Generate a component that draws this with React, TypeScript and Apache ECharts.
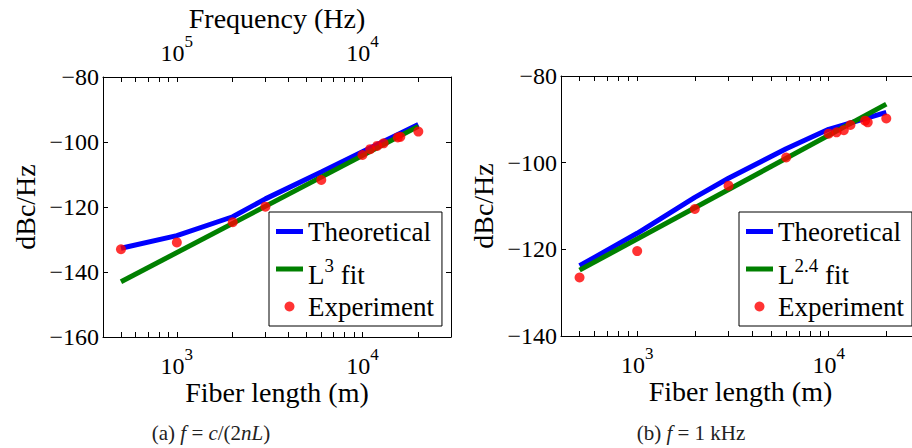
import React, { useEffect, useRef } from "react";
import * as echarts from "echarts";

// ---- data ----
const theoryLengths = [500, 1000, 2000, 3000, 6000, 10000, 20000];
const theoryA = [-132.7, -128.8, -123.0, -117.5, -109.2, -103.0, -94.6];
const theoryB = [-123.8, -116.3, -108.0, -103.6, -96.8, -92.3, -88.4];
const fitLengths = [500, 20000];
const fitA = [-143.0, -95.2];
const fitB = [-124.8, -86.5];
const expLengths = [500, 1000, 2000, 3000, 6000, 10000, 11000, 12000, 13000, 15500, 16000, 20000];
const expA = [-133.0, -130.9, -124.7, -119.9, -111.7, -104.0, -102.2, -101.2, -100.4, -98.6, -98.4, -96.8];
const expB = [-126.5, -120.4, -110.7, -105.3, -98.8, -93.3, -93.0, -92.5, -91.3, -90.3, -90.7, -89.8];
const xLimits = [400, 30000];
const xTickLengths = [500, 600, 700, 800, 900, 1000, 2000, 3000, 4000, 5000, 6000, 7000, 8000, 9000, 10000, 20000];
const xLabelLengths = [1000, 10000];
const yLimitsA = [-160, -80];
const yLimitsB = [-140, -80];
const yStep = 20;
const freqConstant = 1e8; // c/(2n) in Hz·m
const namesA = ["Theoretical", "L^3 fit", "Experiment"];
const namesB = ["Theoretical", "L^2.4 fit", "Experiment"];
const captionA = "(a) {i|f} = {i|c}/(2{i|nL})";
const captionB = "(b) {i|f} = 1 kHz";

// ---- styling ----
const FONT = "Liberation Serif, Times New Roman, serif";
const BLUE = "#0000ff";
const GREEN = "#008000";
const RED = "#ff0000";
const LINE_ICON = "path://M0,0H27V5H0Z";
const lg = (v: number) => Math.log10(v);
const toPts = (xs: number[], ys: number[]) => xs.map((x, i) => [lg(x), ys[i]]);

const powRich = {
  b: { fontFamily: FONT, fontSize: 24, lineHeight: 32, verticalAlign: "bottom", color: "#000" },
  s: { fontFamily: FONT, fontSize: 17, lineHeight: 16, verticalAlign: "top", color: "#000" },
};

function makeX(grid: number, position: string, o: any) {
  return {
    type: "value",
    gridIndex: grid,
    position,
    min: lg(xLimits[0]),
    max: lg(xLimits[1]),
    axisLine: { show: true, onZero: false, lineStyle: { color: "#000", width: 1 } },
    axisTick: {
      show: true,
      inside: true,
      length: 5,
      customValues: xTickLengths.map(lg),
      lineStyle: { color: "#000", width: 1 },
    },
    axisLabel: o.formatter
      ? {
          show: true,
          customValues: xLabelLengths.map(lg),
          margin: o.margin,
          fontFamily: FONT,
          formatter: o.formatter,
          rich: powRich,
        }
      : { show: false },
    splitLine: { show: false },
    name: o.name,
    nameLocation: "middle",
    nameGap: o.nameGap,
    nameMoveOverlap: false,
    nameTextStyle: { fontFamily: FONT, fontSize: 28, color: "#000" },
  };
}

function makeY(grid: number, position: string, limits: number[], labels: boolean, ticks = true) {
  return {
    type: "value",
    gridIndex: grid,
    position,
    min: limits[0],
    max: limits[1],
    interval: yStep,
    axisLine: { show: true, onZero: false, lineStyle: { color: "#000", width: 1 } },
    axisTick: { show: ticks, inside: true, length: 5, lineStyle: { color: "#000", width: 1 } },
    axisLabel: labels
      ? {
          show: true,
          margin: 4,
          fontFamily: FONT,
          fontSize: 24,
          color: "#000",
          formatter: (v: number) => (v < 0 ? "\u2212" : "") + Math.abs(v),
        }
      : { show: false },
    splitLine: { show: false },
    name: labels ? "dBc/Hz" : "",
    nameLocation: "middle",
    nameGap: 64,
    nameRotate: 90,
    nameMoveOverlap: false,
    nameTextStyle: { fontFamily: FONT, fontSize: 28, color: "#000" },
  };
}

const legendFormatter = (name: string) =>
  name.replace(/L\^([\d.]+) fit/, "{m|L}{sup|$1}{m| fit}");

function makeLegend(left: number, names: string[]) {
  return {
    show: true,
    orient: "vertical",
    left,
    top: 212,
    itemGap: 0,
    itemWidth: 27,
    itemHeight: 10,
    padding: [1, 8, 1, 7],
    borderColor: "#000",
    borderWidth: 1,
    backgroundColor: "#fff",
    selectedMode: false,
    align: "left",
    itemStyle: { borderWidth: 0 },
    data: [
      { name: names[0], icon: LINE_ICON, itemStyle: { color: BLUE, borderWidth: 0 } },
      { name: names[1], icon: LINE_ICON, itemStyle: { color: GREEN, borderWidth: 0 } },
      { name: names[2], icon: "circle", itemStyle: { color: RED, borderWidth: 0 } },
    ],
    formatter: legendFormatter,
    textStyle: {
      fontFamily: FONT,
      fontSize: 27,
      color: "#000",
      lineHeight: 37,
      rich: {
        m: {
          fontFamily: FONT,
          fontSize: 27,
          color: "#000",
          lineHeight: 38,
          verticalAlign: "bottom",
        },
        sup: {
          fontFamily: FONT,
          fontSize: 19,
          color: "#000",
          lineHeight: 19,
          verticalAlign: "top",
          padding: [6, 0, 0, 0],
        },
      },
    },
  };
}

function makeSeries(names: string[], axis: number, theory: number[], fit: number[], exp: number[]) {
  return [
    {
      name: names[0],
      type: "line",
      xAxisIndex: axis,
      yAxisIndex: axis,
      data: toPts(theoryLengths, theory),
      symbol: "none",
      color: BLUE,
      lineStyle: { color: BLUE, width: 5 },
      z: 2,
    },
    {
      name: names[1],
      type: "line",
      xAxisIndex: axis,
      yAxisIndex: axis,
      data: toPts(fitLengths, fit),
      symbol: "none",
      color: GREEN,
      lineStyle: { color: GREEN, width: 5 },
      z: 3,
    },
    {
      name: names[2],
      type: "scatter",
      xAxisIndex: axis,
      yAxisIndex: axis,
      data: toPts(expLengths, exp),
      symbol: "circle",
      symbolSize: 10,
      color: RED,
      itemStyle: { color: RED },
      z: 4,
    },
  ];
}

const captionStyle = (text: string) => ({
  text,
  fontFamily: FONT,
  fontSize: 21,
  fill: "#222",
  align: "center",
  verticalAlign: "middle",
  rich: { i: { fontFamily: FONT, fontSize: 21, fontStyle: "italic", fill: "#222" } },
});

export default function App() {
  const ref = useRef<HTMLDivElement>(null);
  useEffect(() => {
    if (!ref.current) return;
    const chart = echarts.init(ref.current, null, { renderer: "svg" });
    const bottomFmt = (v: number) => `{b|10}{s|${Math.round(v)}}`;
    const topFmt = (v: number) => `{b|10}{s|${Math.round(lg(freqConstant) - v)}}`;
    chart.setOption({
      animation: false,
      backgroundColor: "#fff",
      textStyle: { fontFamily: FONT, color: "#000" },
      grid: [
        { left: 103, top: 77, width: 348, height: 260, containLabel: false, outerBoundsMode: "none" },
        { left: 561, top: 76, width: 359, height: 260, containLabel: false, outerBoundsMode: "none" },
      ],
      xAxis: [
        makeX(0, "bottom", { formatter: bottomFmt, margin: 9, name: "Fiber length (m)", nameGap: 41 }),
        makeX(0, "top", { formatter: topFmt, margin: 12, name: "Frequency (Hz)", nameGap: 45 }),
        makeX(1, "bottom", { formatter: bottomFmt, margin: 9, name: "Fiber length (m)", nameGap: 41 }),
        makeX(1, "top", { name: "" }),
      ],
      yAxis: [
        makeY(0, "left", yLimitsA, true),
        makeY(0, "right", yLimitsA, false),
        makeY(1, "left", yLimitsB, true),
        makeY(1, "right", yLimitsB, false, false),
      ],
      legend: [makeLegend(269, namesA), makeLegend(739, namesB)],
      series: [
        ...makeSeries(namesA, 0, theoryA, fitA, expA),
        ...makeSeries(namesB, 2, theoryB, fitB, expB),
      ],
      graphic: [
        { type: "text", x: 211, y: 433, style: captionStyle(captionA) },
        { type: "text", x: 691, y: 433, style: captionStyle(captionB) },
      ],
    });
    return () => chart.dispose();
  }, []);
  return (
    <div
      ref={ref}
      style={{ position: "fixed", left: 0, top: 0, width: 930, height: 448 }}
    />
  );
}
